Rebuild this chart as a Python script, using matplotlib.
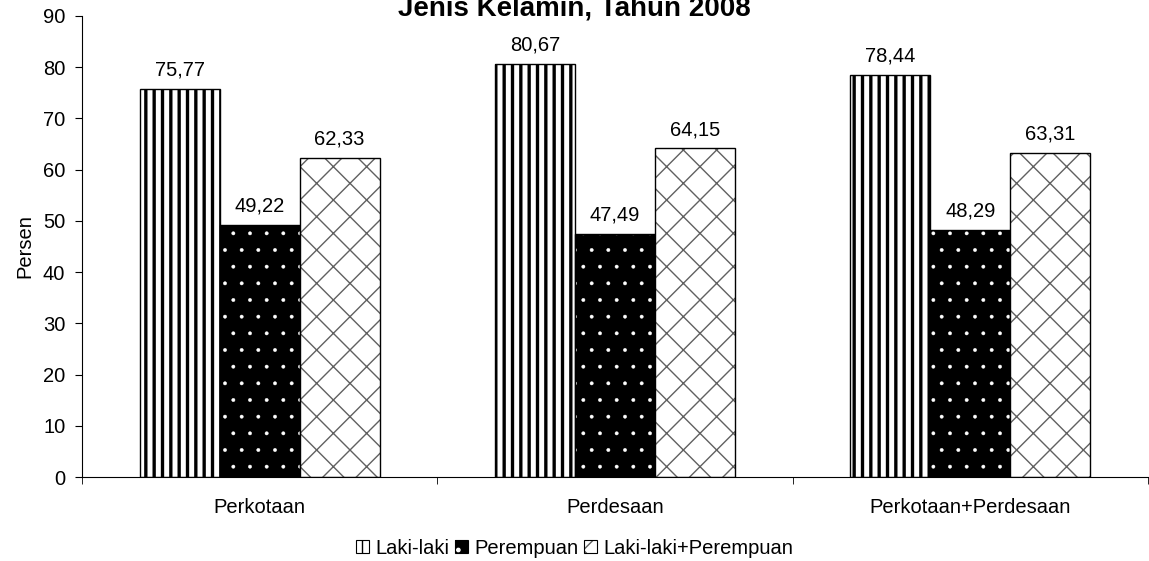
import matplotlib.pyplot as plt
import numpy as np
from matplotlib.patches import Patch
from matplotlib.legend_handler import HandlerTuple

plt.rcParams["font.family"] = ["Liberation Sans", "DejaVu Sans"]

categories = ["Perkotaan", "Perdesaan", "Perkotaan+Perdesaan"]
series_names = ["Laki-laki", "Perempuan", "Laki-laki+Perempuan"]
laki = [75.77, 80.67, 78.44]
perempuan = [49.22, 47.49, 48.29]
gabungan = [62.33, 64.15, 63.31]
title = "Jenis Kelamin, Tahun 2008"

# (face, hatch, hatch colour, hatch linewidth)
styles = [
    ("white", "||", "black", 2.4),
    ("black", ".", "white", 0.3),
    ("white", "x", "#606060", 1.0),
]

fig = plt.figure(figsize=(11.49, 5.61), dpi=100)
ax = fig.add_axes([0.0714, 0.1497, 0.9276, 0.8218])

x = np.arange(len(categories))
w = 0.225
series = [laki, perempuan, gabungan]
fs = 14.5

handles = []
for i, (vals, (face, hatch, hcol, hlw)) in enumerate(zip(series, styles)):
    pos = x + (i - 1) * w
    plt.rcParams["hatch.linewidth"] = hlw
    ax.bar(pos, vals, w, color=face, edgecolor=hcol, hatch=hatch, linewidth=0)
    ax.bar(pos, vals, w, fill=False, edgecolor="black", linewidth=1.0)
    for px, v in zip(pos, vals):
        ax.text(px, v + 1.8, f"{v:.2f}".replace(".", ","), ha="center",
                va="bottom", fontsize=fs)
    h1 = Patch(facecolor=face, edgecolor=hcol, hatch=hatch, linewidth=0)
    h2 = Patch(fill=False, edgecolor="black", linewidth=0.8)
    handles.append((h1, h2))

plt.rcParams["hatch.linewidth"] = 1.0

ax.set_xlim(-0.5, 2.5)
ax.set_ylim(0, 90)
ax.set_yticks(range(0, 91, 10))
ax.set_xticks(x)
ax.set_xticklabels(categories)
ax.set_xticks([-0.5, 0.5, 1.5, 2.5], minor=True)
ax.tick_params(axis="x", which="major", length=0, pad=15, labelsize=fs)
ax.tick_params(axis="x", which="minor", length=5, direction="out")
ax.tick_params(axis="y", length=5, pad=7, labelsize=fs)
ax.spines["top"].set_visible(False)
ax.spines["right"].set_visible(False)
ax.set_ylabel("Persen", fontsize=fs, labelpad=6)

# title only partly visible at the top edge, as in the source
fig.text(0.5, 0.973, title, ha="center", va="baseline", fontsize=20,
         fontweight="bold")

fig.legend(handles=handles, labels=series_names, loc="center",
           bbox_to_anchor=(0.5, 0.023), ncol=3, frameon=False, fontsize=fs,
           handlelength=0.65, handleheight=0.65, handletextpad=0.3,
           columnspacing=0.3,
           handler_map={tuple: HandlerTuple(ndivide=1, pad=0)})

fig.savefig("out.png", dpi=100)
